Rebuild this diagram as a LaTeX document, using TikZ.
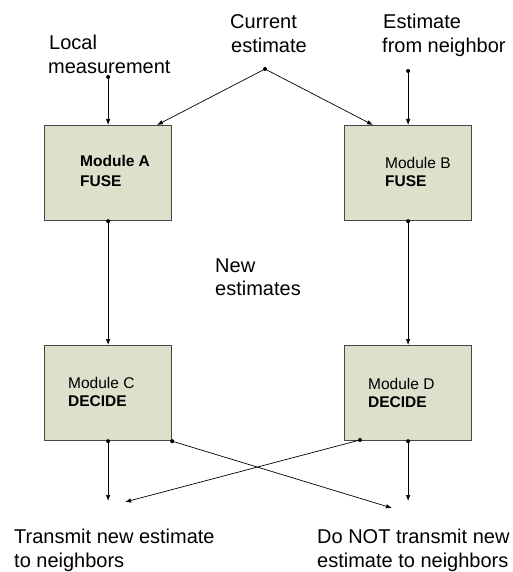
\documentclass[tikz,border=0pt]{standalone}
\usepackage{fontspec}
\setmainfont{Liberation Sans}
\usetikzlibrary{arrows.meta}
\definecolor{boxfill}{RGB}{221,224,203}
\definecolor{boxline}{RGB}{70,70,70}
\begin{document}
\begin{tikzpicture}[x=1pt,y=-1pt,
 modbox/.style={draw=boxline,fill=boxfill,line width=1.2pt,minimum width=127pt,minimum height=95pt,inner sep=0pt,anchor=north west},
 lbl/.style={anchor=base west,inner sep=0pt,font=\fontsize{20}{24}\selectfont},
 mlbl/.style={anchor=base west,inner sep=0pt,font=\fontsize{15.5}{19}\selectfont},
 mlblb/.style={anchor=base west,inner sep=0pt,font=\fontsize{15.5}{19}\selectfont\bfseries},
 conn/.style={-{Latex[length=6pt,width=4.5pt]},line width=0.7pt}]
\useasboundingbox (0,0) rectangle (512,572);
% boxes
\node[modbox] (A) at (44,125) {};
\node[modbox] (B) at (344,125) {};
\node[modbox] (C) at (44,345) {};
\node[modbox] (D) at (344,345) {};
% box labels
\node[mlblb] (la1) at (80,167) {Module A};
\node[mlblb] (la2) at (80,186) {FUSE};
\node[mlbl]  (lb1) at (385,168) {Module B};
\node[mlblb] (lb2) at (385,186) {FUSE};
\node[mlbl]  (lc1) at (68,388) {Module C};
\node[mlblb] (lc2) at (68,406) {DECIDE};
\node[mlbl]  (ld1) at (368,389) {Module D};
\node[mlblb] (ld2) at (368,407) {DECIDE};
% other texts
\node[lbl] (t1) at (49,50) {Local};
\node[lbl] (t2) at (48,74) {measurement};
\node[lbl] (t3) at (230,29) {Current};
\node[lbl] (t4) at (231,53) {estimate};
\node[lbl] (t5) at (383,29) {Estimate};
\node[lbl] (t6) at (382,53) {from neighbor};
\node[lbl] (t7) at (215,272) {New};
\node[lbl] (t8) at (215,295) {estimates};
\node[lbl] (t9) at (14,543) {Transmit new estimate};
\node[lbl] (t10) at (14,567) {to neighbors};
\node[lbl] (t11) at (317,543) {Do NOT transmit new};
\node[lbl] (t12) at (317,567) {estimate to neighbors};
% coordinates
\coordinate (lm) at (A.north |- 0,77);
\coordinate (ce) at (265,69);
\coordinate (en) at (B.north |- 0,71);
\coordinate (ta) at (157,125);
\coordinate (tb) at (373,125);
\coordinate (cx) at (C.south |- 0,501);
\coordinate (dx) at (D.south |- 0,501);
\coordinate (cd) at (392,508);
\coordinate (dc) at (125,502);
\coordinate (dsl) at (360,440);
% connectors
\draw[conn] (lm) -- (A.north);
\draw[conn] (ce) -- (ta);
\draw[conn] (ce) -- (tb);
\draw[conn] (en) -- (B.north);
\draw[conn] (A.south) -- (C.north);
\draw[conn] (B.south) -- (D.north);
\draw[conn] (C.south) -- (cx);
\draw[conn] (C.south east) -- (cd);
\draw[conn] (D.south) -- (dx);
\draw[conn] (dsl) -- (dc);
\foreach \p in {lm,ce,en,A.south,B.south,C.south,C.south east,D.south,dsl}
  \fill (\p) circle (2pt);
\end{tikzpicture}
\end{document}
